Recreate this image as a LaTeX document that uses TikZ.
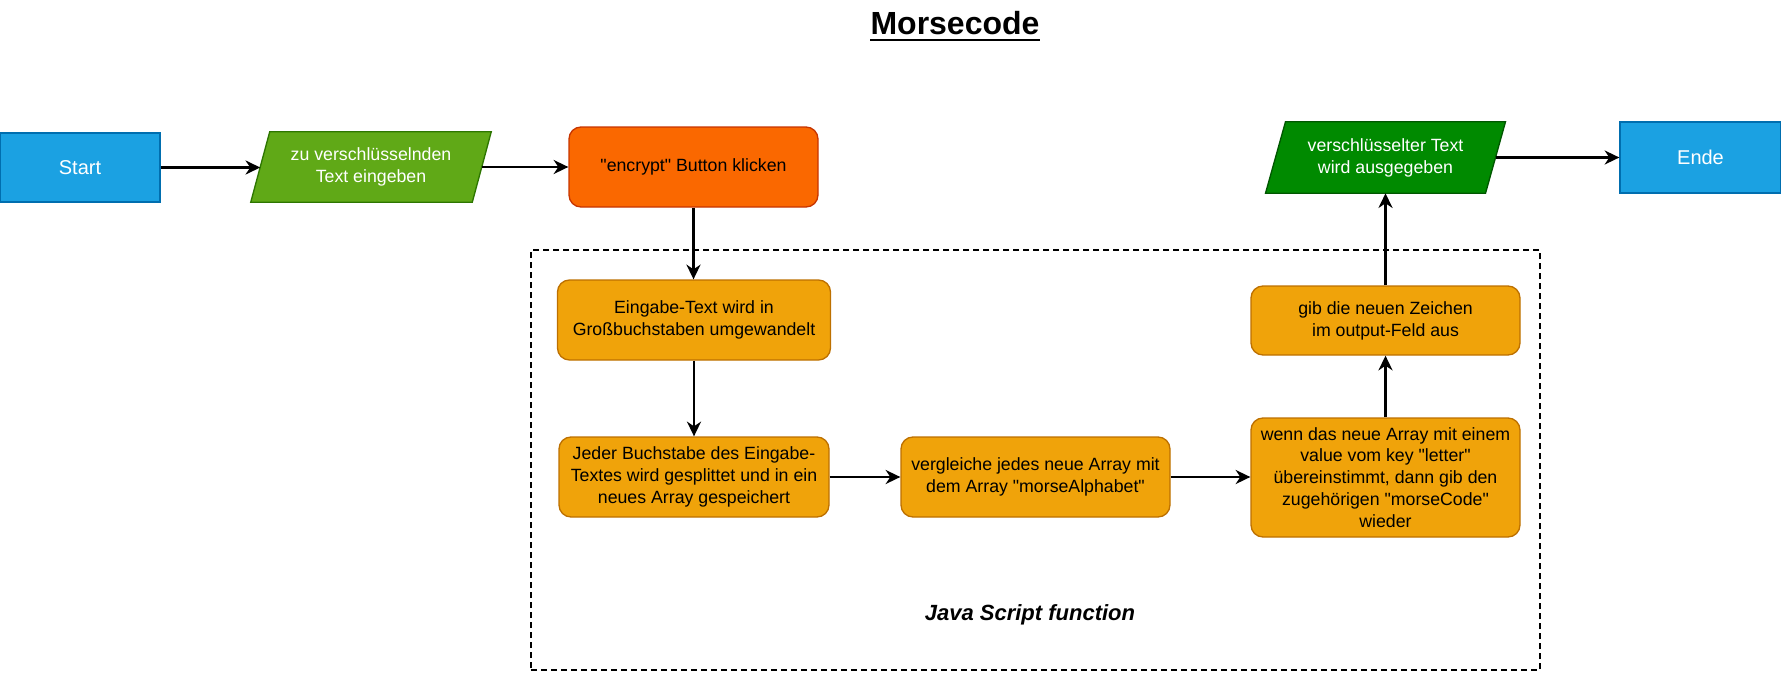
\documentclass[tikz,border=0pt]{standalone}
\usepackage{fontspec}
\setmainfont{Liberation Sans}[Ligatures=TeXOff]
\usetikzlibrary{arrows.meta,backgrounds,calc}
\definecolor{blueF}{HTML}{1BA1E2}
\definecolor{blueD}{HTML}{006EAF}
\definecolor{greenF}{HTML}{60A917}
\definecolor{greenD}{HTML}{2D7600}
\definecolor{orangeF}{HTML}{FA6800}
\definecolor{orangeD}{HTML}{C73500}
\definecolor{amberF}{HTML}{F0A30A}
\definecolor{amberD}{HTML}{BD7000}
\definecolor{dgreenF}{HTML}{008A00}
\definecolor{dgreenD}{HTML}{005700}
\begin{document}
\begin{tikzpicture}[x=0.75pt,y=-0.75pt,
  box/.style={draw, line width=1pt, align=center, inner sep=0pt,
    font=\fontsize{13.3pt}{16.4pt}\selectfont},
  term/.style={box, fill=blueF, draw=blueD, text=white,
    font=\fontsize{15pt}{18pt}\selectfont},
  proc/.style={box, rounded corners=9pt, fill=amberF, draw=amberD},
  btn/.style={box, rounded corners=9pt, fill=orangeF, draw=orangeD},
  para/.style={align=center, inner sep=0pt, text=white,
    font=\fontsize{13.3pt}{16.4pt}\selectfont},
  arr/.style={line width=2pt, -{Stealth[length=11pt,width=10.5pt,inset=3.5pt]}},
  fnbox/.style={draw, line width=1.3pt, dash pattern=on 4.5pt off 3pt, inner sep=0pt}
]
\useasboundingbox (0,0) rectangle (1781,674);

% title
\node[anchor=base, inner sep=0pt, font=\fontsize{24pt}{28pt}\selectfont\bfseries] (title) at (955,35) {Morsecode};
\draw[line width=1.9pt] ([yshift=-3.6pt]title.base west) -- ([yshift=-3.6pt]title.base east);

% function frame
\node[fnbox, minimum width=756.75pt, minimum height=315pt] (fn) at (1035.5,460) {};
\node[inner sep=0pt, font=\fontsize{16.5pt}{20pt}\selectfont\bfseries\itshape] (fnlabel) at (1030,615) {Java Script function};

% top row
\node[term, minimum width=120pt, minimum height=51.75pt] (start) at (80,167.5) {Start};
\node[para, minimum width=165.75pt, minimum height=52.5pt] (in) at (371,167) {zu verschlüsselnden\\Text eingeben};
\node[btn, minimum width=186.75pt, minimum height=60pt] (enc) at (693.5,167) {"encrypt" Button klicken};
\node[para, minimum width=164.6pt, minimum height=53.25pt] (out) at (1385.5,157.5) {verschlüsselter Text\\wird ausgegeben};
\node[term, minimum width=120.75pt, minimum height=53.25pt] (ende) at (1700.5,157.5) {Ende};

% inner steps
\node[proc, minimum width=204.75pt, minimum height=60pt] (eing) at (694,320) {Eingabe-Text wird in\\Großbuchstaben umgewandelt};
\node[proc, minimum width=202.5pt, minimum height=60pt] (jeder) at (694,477) {Jeder Buchstabe des Eingabe-\\Textes wird gesplittet und in ein\\neues Array gespeichert};
\node[proc, minimum width=201.75pt, minimum height=60pt] (vergl) at (1035.5,477) {vergleiche jedes neue Array mit\\dem Array "morseAlphabet"};
\node[proc, minimum width=201.75pt, minimum height=89.25pt] (wenn) at (1385.5,477.5) {wenn das neue Array mit einem\\value vom key "letter"\\übereinstimmt, dann gib den\\zugehörigen "morseCode"\\wieder};
\node[proc, minimum width=201.75pt, minimum height=51.75pt] (gib) at (1385.5,320.5) {gib die neuen Zeichen\\im output-Feld aus};

% parallelogram bodies
\begin{scope}[on background layer]
\filldraw[fill=greenF, draw=greenD, line width=1pt]
  ($(in.south west)+(-9.5,0)$) -- ($(in.south east)+(-9.5,0)$) --
  ($(in.north east)+(9.5,0)$) -- ($(in.north west)+(9.5,0)$) -- cycle;
\filldraw[fill=dgreenF, draw=dgreenD, line width=1pt]
  ($(out.south west)+(-10,0)$) -- ($(out.south east)+(-10,0)$) --
  ($(out.north east)+(10,0)$) -- ($(out.north west)+(10,0)$) -- cycle;
\end{scope}

% connectors
\draw[arr] (start.east) -- (start.east -| in.west);
\draw[arr] (in.east) -- (in.east -| enc.west);
\draw[arr] (enc.south) -- (enc.south |- eing.north);
\draw[arr] (eing.south) -- (jeder.north);
\draw[arr] (jeder.east) -- (vergl.west);
\draw[arr] (vergl.east) -- (vergl.east -| wenn.west);
\draw[arr] (wenn.north) -- (gib.south);
\draw[arr] (gib.north) -- (out.south);
\draw[arr] (out.east) -- (ende.west);
\end{tikzpicture}
\end{document}
